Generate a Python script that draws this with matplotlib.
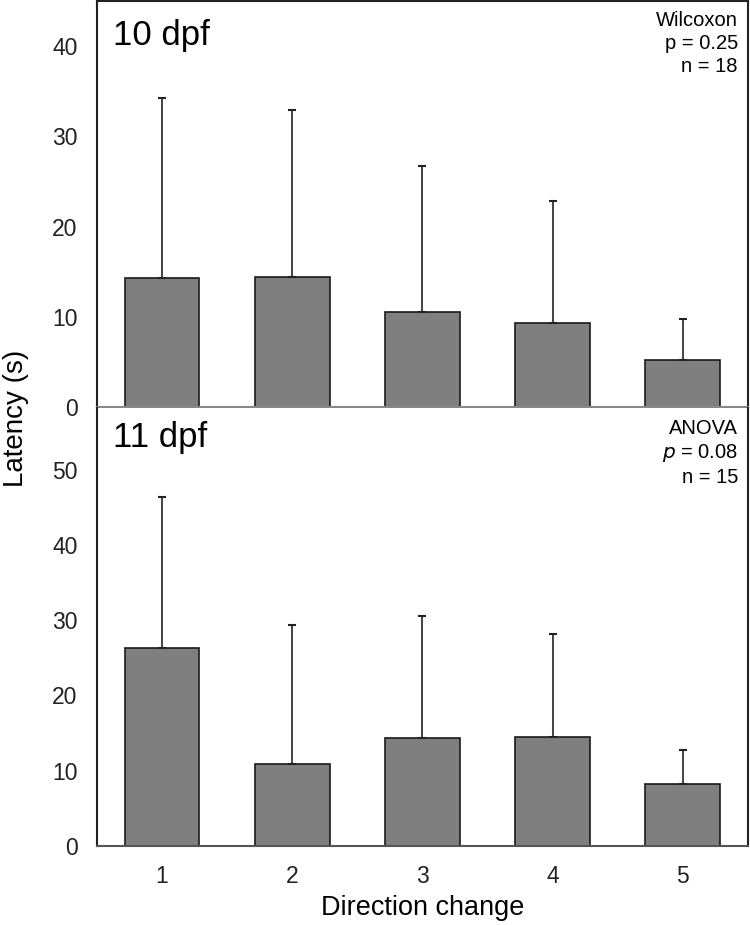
import matplotlib
matplotlib.use("Agg")
import matplotlib.pyplot as plt

plt.rcParams['font.family'] = ['Liberation Sans', 'DejaVu Sans']

# Data
changes = [1, 2, 3, 4, 5]
tick_labels = ['1', '2', '3', '4', '5']

mean_10dpf = [14.3, 14.4, 10.5, 9.3, 5.2]
err_10dpf = [19.9, 18.5, 16.2, 13.5, 4.6]

mean_11dpf = [26.3, 10.9, 14.3, 14.5, 8.2]
err_11dpf = [20.1, 18.5, 16.2, 13.7, 4.6]

stats_10 = "Wilcoxon\np = 0.25\nn = 18"
stats_11 = "ANOVA\n$\\it{p}$ = 0.08\nn = 15"

fig = plt.figure(figsize=(7.5, 9.25), dpi=100)
ax1 = fig.add_axes([0.1293, 0.560, 0.8677, 0.4389])
ax2 = fig.add_axes([0.1293, 0.0854, 0.8677, 0.4735])

bar_kw = dict(width=0.575, color='#7f7f7f', edgecolor='#1a1a1a', linewidth=1.2, zorder=2)
err_kw = dict(ecolor='#222222', elinewidth=1.2, capsize=3, capthick=1.5)

# top panel: 10 dpf
ax1.bar(changes, mean_10dpf, yerr=[[0] * 5, err_10dpf], error_kw=err_kw, **bar_kw)
ax1.set_ylim(0, 45)
ax1.set_yticks([0, 10, 20, 30, 40])
ax1.set_xticks([])
ax1.text(0.024, 0.955, "10 dpf", transform=ax1.transAxes, fontsize=25,
         ha='left', va='top')
ax1.text(0.985, 0.975, stats_10, transform=ax1.transAxes, fontsize=14.5,
         ha='right', va='top', linespacing=1.25)

# bottom panel: 11 dpf
ax2.bar(changes, mean_11dpf, yerr=[[0] * 5, err_11dpf], error_kw=err_kw, **bar_kw)
ax2.set_ylim(0, 58.2)
ax2.set_yticks([0, 10, 20, 30, 40, 50])
ax2.set_xticks(changes)
ax2.set_xticklabels(tick_labels)
ax2.text(0.024, 0.97, "11 dpf", transform=ax2.transAxes, fontsize=25,
         ha='left', va='top')
ax2.text(0.985, 0.975, stats_11, transform=ax2.transAxes, fontsize=14.5,
         ha='right', va='top', linespacing=1.25)
ax2.set_xlabel("Direction change", fontsize=19.5, labelpad=5)

for ax in (ax1, ax2):
    ax.set_xlim(0.5, 5.5)
    ax.tick_params(length=0, labelsize=16.5, pad=14, colors='#222222')
    for s in ('left', 'right', 'top'):
        ax.spines[s].set_color('#222222')
        ax.spines[s].set_linewidth(1.5)
    ax.spines['bottom'].set_color('#888888')
    ax.spines['bottom'].set_linewidth(1.5)
ax2.spines['top'].set_visible(False)
ax2.spines['bottom'].set_color('#555555')

fig.text(0.021, 0.548, "Latency (s)", rotation=90, fontsize=20,
         ha='center', va='center')

fig.savefig("out.png", dpi=100)
